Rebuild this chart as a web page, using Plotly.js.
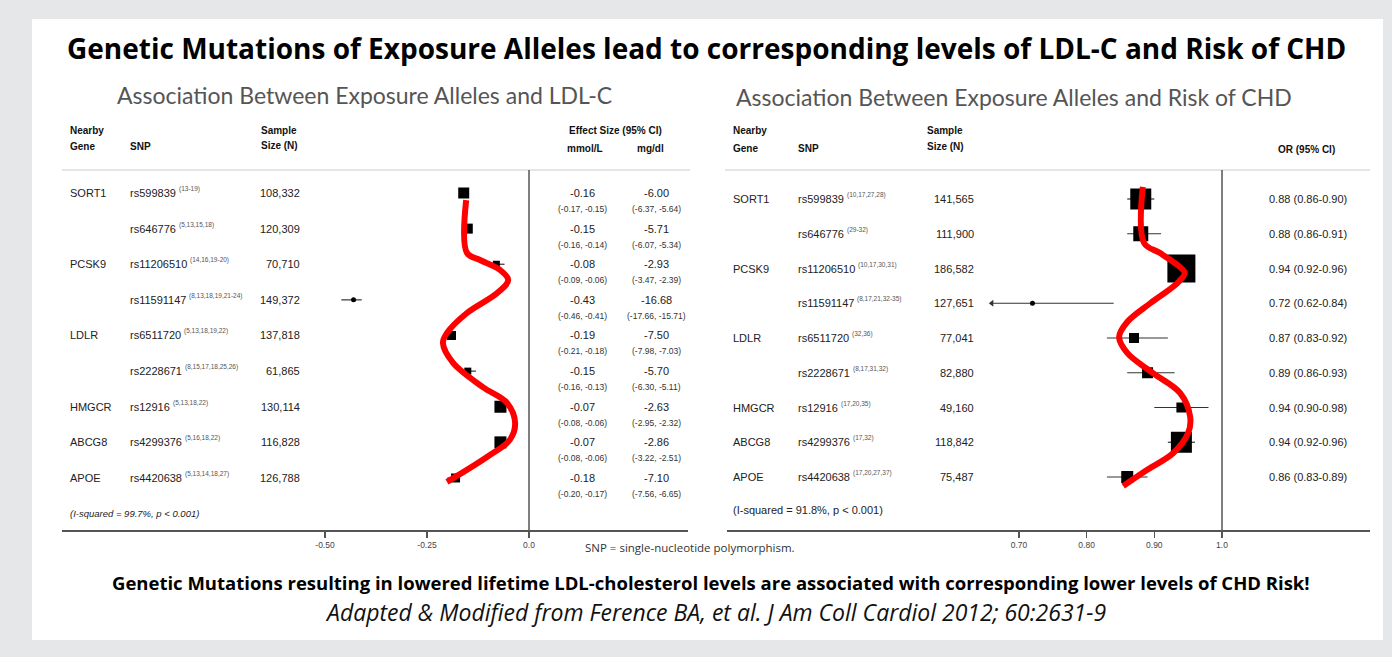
<!DOCTYPE html>
<html><head><meta charset="utf-8">
<script src="https://cdn.plot.ly/plotly-3.0.1.min.js"></script>
<style>html,body{margin:0;padding:0;background:#e6e7e9;} #chart{width:1392px;height:657px;}</style>
</head><body><div id="chart"></div>
<script>
// ---------- DATA ----------
const genes = ["SORT1", "", "PCSK9", "", "LDLR", "", "HMGCR", "ABCG8", "APOE"];
const snps = ["rs599839", "rs646776", "rs11206510", "rs11591147", "rs6511720", "rs2228671", "rs12916", "rs4299376", "rs4420638"];

const ldlRefs = ["(13-19)", "(5,13,15,18)", "(14,16,19-20)", "(8,13,18,19,21-24)", "(5,13,18,19,22)", "(8,15,17,18,25,26)", "(5,13,18,22)", "(5,16,18,22)", "(5,13,14,18,27)"];
const ldlN = ["108,332", "120,309", "70,710", "149,372", "137,818", "61,865", "130,114", "116,828", "126,788"];
const ldlMmol = [-0.16, -0.15, -0.08, -0.43, -0.19, -0.15, -0.07, -0.07, -0.18];
const ldlMmolLo = [-0.17, -0.16, -0.09, -0.46, -0.21, -0.16, -0.08, -0.08, -0.20];
const ldlMmolHi = [-0.15, -0.14, -0.06, -0.41, -0.18, -0.13, -0.06, -0.06, -0.17];
const ldlMg = [-6.00, -5.71, -2.93, -16.68, -7.50, -5.70, -2.63, -2.86, -7.10];
const ldlMgLo = [-6.37, -6.07, -3.47, -17.66, -7.98, -6.30, -2.95, -3.22, -7.56];
const ldlMgHi = [-5.64, -5.34, -2.39, -15.71, -7.03, -5.11, -2.32, -2.51, -6.65];

const chdRefs = ["(10,17,27,28)", "(29-32)", "(10,17,30,31)", "(8,17,21,32-35)", "(32,36)", "(8,17,31,32)", "(17,20,35)", "(17,32)", "(17,20,27,37)"];
const chdN = ["141,565", "111,900", "186,582", "127,651", "77,041", "82,880", "49,160", "118,842", "75,487"];
const chdOR = [0.88, 0.88, 0.94, 0.72, 0.87, 0.89, 0.94, 0.94, 0.86];
const chdLo = [0.86, 0.86, 0.92, 0.62, 0.83, 0.86, 0.90, 0.92, 0.83];
const chdHi = [0.90, 0.91, 0.96, 0.84, 0.92, 0.93, 0.98, 0.96, 0.89];

const ldlTickVals = [-0.50, -0.25, 0.0];
const ldlTickText = ["-0.50", "-0.25", "0.0"];
const chdTickVals = [0.70, 0.80, 0.90, 1.0];
const chdTickText = ["0.70", "0.80", "0.90", "1.0"];

// hand-drawn red trend curves (value, row position)
const ldlCurveX = [-0.154, -0.152, -0.120, -0.071, -0.051, -0.078, -0.152, -0.201, -0.211, -0.186, -0.113, -0.054, -0.034, -0.047, -0.103, -0.201];
const ldlCurveRow = [0.20, 1.68, 1.88, 2.16, 2.44, 2.81, 3.37, 3.93, 4.21, 4.77, 5.45, 5.89, 6.46, 6.93, 7.41, 8.11];
const chdCurveX = [0.883, 0.885, 0.908, 0.938, 0.945, 0.934, 0.894, 0.860, 0.848, 0.860, 0.898, 0.938, 0.953, 0.950, 0.928, 0.889, 0.854];
const chdCurveRow = [-0.35, 1.27, 1.55, 1.96, 2.13, 2.42, 3.00, 3.54, 3.97, 4.43, 5.01, 5.58, 6.27, 6.73, 7.31, 7.80, 8.26];

// ---------- STYLE ----------
const ldlBoxPx = [11, 10, 7, 5, 9, 7, 12, 12, 9];
const ldlSym = ["square", "square", "square", "circle", "square", "square", "square", "square", "square"];
const chdBoxPx = [21, 15, 28, 5, 10, 11, 10, 21, 12];
const chdSym = ["square", "square", "square", "circle", "square", "square", "square", "square", "square"];
const chdClipMin = 0.66;

const W = 1392, H = 657;
const PX = x => x / W, PY = y => 1 - y / H;
const rows = snps.map((_, i) => i);

const TABLE = "Liberation Sans, Arial, sans-serif";
const CAL = "Open Sans, sans-serif";
const ROWSIZE = 11;

const f2 = v => v.toFixed(2);
const ctx = document.createElement("canvas").getContext("2d");
ctx.font = ROWSIZE + "px 'Liberation Sans'";
const textW = s => ctx.measureText(s).width;

const traces = [];
traces.push({
  type: "scatter", mode: "markers", x: ldlMmol, y: rows, xaxis: "x", yaxis: "y",
  marker: {symbol: ldlSym, size: ldlBoxPx, color: "#000", opacity: 1, line: {width: 0}},
  error_x: {type: "data", symmetric: false,
    array: ldlMmol.map((v, i) => ldlMmolHi[i] - v),
    arrayminus: ldlMmol.map((v, i) => v - ldlMmolLo[i]),
    color: "#333", thickness: 1.2, width: 0},
  hoverinfo: "skip"
});
traces.push({
  type: "scatter", mode: "lines", x: ldlCurveX, y: ldlCurveRow, xaxis: "x", yaxis: "y",
  line: {color: "#ff0000", width: 6, shape: "spline", smoothing: 1.0}, hoverinfo: "skip"
});
const chdLoShown = chdLo.map(v => Math.max(v, chdClipMin));
traces.push({
  type: "scatter", mode: "markers", x: chdOR, y: rows, xaxis: "x2", yaxis: "y2",
  marker: {symbol: chdSym, size: chdBoxPx, color: "#000", opacity: 1, line: {width: 0}},
  error_x: {type: "data", symmetric: false,
    array: chdOR.map((v, i) => chdHi[i] - v),
    arrayminus: chdOR.map((v, i) => v - chdLoShown[i]),
    color: "#333", thickness: 1.2, width: 0},
  hoverinfo: "skip"
});
const clipped = rows.filter(i => chdLo[i] < chdClipMin);
traces.push({
  type: "scatter", mode: "markers", x: clipped.map(() => chdClipMin), y: clipped, xaxis: "x2", yaxis: "y2",
  marker: {symbol: "triangle-left", size: 6, color: "#333", opacity: 1}, hoverinfo: "skip"
});
traces.push({
  type: "scatter", mode: "lines", x: chdCurveX, y: chdCurveRow, xaxis: "x2", yaxis: "y2",
  line: {color: "#ff0000", width: 6, shape: "spline", smoothing: 1.0}, hoverinfo: "skip"
});

// ---------- ANNOTATIONS ----------
const ann = [];
function T(text, x, y, o) {
  ann.push(Object.assign({text: text, x: x, y: y, xref: "paper", yref: "paper", showarrow: false,
    xanchor: "left", yanchor: "middle", font: {family: TABLE, size: ROWSIZE, color: "#222"}}, o || {}));
}
// titles
T("<b>Genetic Mutations of Exposure Alleles lead to corresponding levels of LDL-C and Risk of CHD</b>", PX(706), PY(48),
  {xanchor: "center", font: {family: CAL, size: 28, color: "#000"}});
T("Association Between Exposure Alleles and LDL-C", PX(364), PY(95),
  {xanchor: "center", font: {family: "Lato, sans-serif", size: 23, color: "#555"}});
T("Association Between Exposure Alleles and Risk of CHD", PX(1014), PY(97),
  {xanchor: "center", font: {family: "Lato, sans-serif", size: 23, color: "#555"}});
T("<b>Genetic Mutations resulting in lowered lifetime LDL-cholesterol levels are associated with corresponding lower levels of CHD Risk!</b>", PX(711), PY(582),
  {xanchor: "center", font: {family: CAL, size: 18.5, color: "#000"}});
T("<i>Adapted &amp; Modified from Ference BA, et al. J Am Coll Cardiol 2012; 60:2631-9</i>", PX(715), PY(612),
  {xanchor: "center", font: {family: CAL, size: 23, color: "#111"}});
T("SNP = single-nucleotide polymorphism.", PX(583), PY(547), {font: {family: CAL, size: 11.5, color: "#333"}});

// headers
const HF = {family: TABLE, size: 10, color: "#111"};
T("<b>Nearby</b>", PX(68), PY(130), {font: HF});
T("<b>Gene</b>", PX(68), PY(147), {font: HF});
T("<b>SNP</b>", PX(128), PY(147), {font: HF});
T("<b>Sample</b>", PX(259), PY(130), {font: HF});
T("<b>Size (N)</b>", PX(259), PY(145), {font: HF});
T("<b>Effect Size (95% CI)</b>", PX(615), PY(131), {xanchor: "center", font: HF});
T("<b>mmol/L</b>", PX(585), PY(148), {xanchor: "center", font: HF});
T("<b>mg/dl</b>", PX(650), PY(148), {xanchor: "center", font: HF});
T("<b>Nearby</b>", PX(731), PY(131), {font: HF});
T("<b>Gene</b>", PX(731), PY(148), {font: HF});
T("<b>SNP</b>", PX(796), PY(148), {font: HF});
T("<b>Sample</b>", PX(925), PY(131), {font: HF});
T("<b>Size (N)</b>", PX(925), PY(146), {font: HF});
T("<b>OR (95% CI)</b>", PX(1306), PY(149), {xanchor: "center", font: HF});

const REF = {family: TABLE, size: 6.5, color: "#555"};
const CIF = {family: TABLE, size: 8.5, color: "#333"};
rows.forEach(i => {
  // left table
  if (genes[i]) T(genes[i], PX(68), i, {yref: "y"});
  T(snps[i], PX(128), i, {yref: "y"});
  T(ldlRefs[i], PX(128 + textW(snps[i]) + 3), i, {yref: "y", yshift: 4, font: REF});
  T(ldlN[i], PX(302), i, {yref: "y", xanchor: "right"});
  T(f2(ldlMmol[i]), PX(582), i, {yref: "y", xanchor: "center"});
  T("(" + f2(ldlMmolLo[i]) + ", " + f2(ldlMmolHi[i]) + ")", PX(582), i,
    {yref: "y", xanchor: "center", yshift: -16, font: CIF});
  T(f2(ldlMg[i]), PX(656), i, {yref: "y", xanchor: "center"});
  T("(" + f2(ldlMgLo[i]) + ", " + f2(ldlMgHi[i]) + ")", PX(656), i,
    {yref: "y", xanchor: "center", yshift: -16, font: CIF});
  // right table
  if (genes[i]) T(genes[i], PX(731), i, {yref: "y2"});
  T(snps[i], PX(796), i, {yref: "y2"});
  T(chdRefs[i], PX(796 + textW(snps[i]) + 3), i, {yref: "y2", yshift: 4, font: REF});
  T(chdN[i], PX(976), i, {yref: "y2", xanchor: "right"});
  T(f2(chdOR[i]) + " (" + f2(chdLo[i]) + "-" + f2(chdHi[i]) + ")", PX(1308), i, {yref: "y2", xanchor: "center"});
});
T("<i>(I-squared = 99.7%, p &lt; 0.001)</i>", PX(68), PY(513), {font: {family: TABLE, size: 9.5, color: "#222"}});
T("(I-squared = 91.8%, p &lt; 0.001)", PX(731), PY(510), {font: {family: TABLE, size: 11, color: "#222"}});

// ---------- SHAPES ----------
const shapes = [
  {type: "rect", xref: "paper", yref: "paper", x0: PX(32), x1: PX(1383), y0: PY(640), y1: PY(19),
    fillcolor: "#ffffff", line: {width: 0}, layer: "below"},
  {type: "line", xref: "paper", yref: "paper", x0: PX(62), x1: PX(690), y0: PY(170), y1: PY(170),
    line: {color: "#dddddd", width: 1.5}},
  {type: "line", xref: "paper", yref: "paper", x0: PX(725), x1: PX(1370), y0: PY(170), y1: PY(170),
    line: {color: "#dddddd", width: 1.5}},
  {type: "line", xref: "x", yref: "paper", x0: 0, x1: 0, y0: PY(530), y1: PY(170),
    line: {color: "#555", width: 1.5}},
  {type: "line", xref: "x2", yref: "paper", x0: 1, x1: 1, y0: PY(530), y1: PY(170),
    line: {color: "#555", width: 1.5}}
];

const axBase = {showgrid: false, zeroline: false, showline: true, linecolor: "#555", linewidth: 1.5,
  ticks: "outside", ticklen: 6, tickcolor: "#555", tickwidth: 1.2, tickmode: "array",
  tickfont: {family: TABLE, size: 8.5, color: "#444"}, fixedrange: true};

const layout = {
  width: W, height: H, margin: {l: 0, r: 0, t: 0, b: 0, pad: 0},
  paper_bgcolor: "#e6e7e9", plot_bgcolor: "rgba(0,0,0,0)", showlegend: false,
  xaxis: Object.assign({}, axBase, {domain: [PX(62), PX(688)], range: [-1.1446, 0.3897],
    tickvals: ldlTickVals, ticktext: ldlTickText, anchor: "y"}),
  yaxis: {domain: [PY(530), PY(170)], range: [9.46, -0.6456], visible: false, fixedrange: true, anchor: "x"},
  xaxis2: Object.assign({}, axBase, {domain: [PX(727), PX(1370)], range: [0.2688, 1.2186],
    tickvals: chdTickVals, ticktext: chdTickText, anchor: "y2"}),
  yaxis2: {domain: [PY(530), PY(170)], range: [9.525, -0.8345], visible: false, fixedrange: true, anchor: "x2"},
  annotations: ann, shapes: shapes
};

Plotly.newPlot("chart", traces, layout, {displayModeBar: false, staticPlot: true});
</script></body></html>
